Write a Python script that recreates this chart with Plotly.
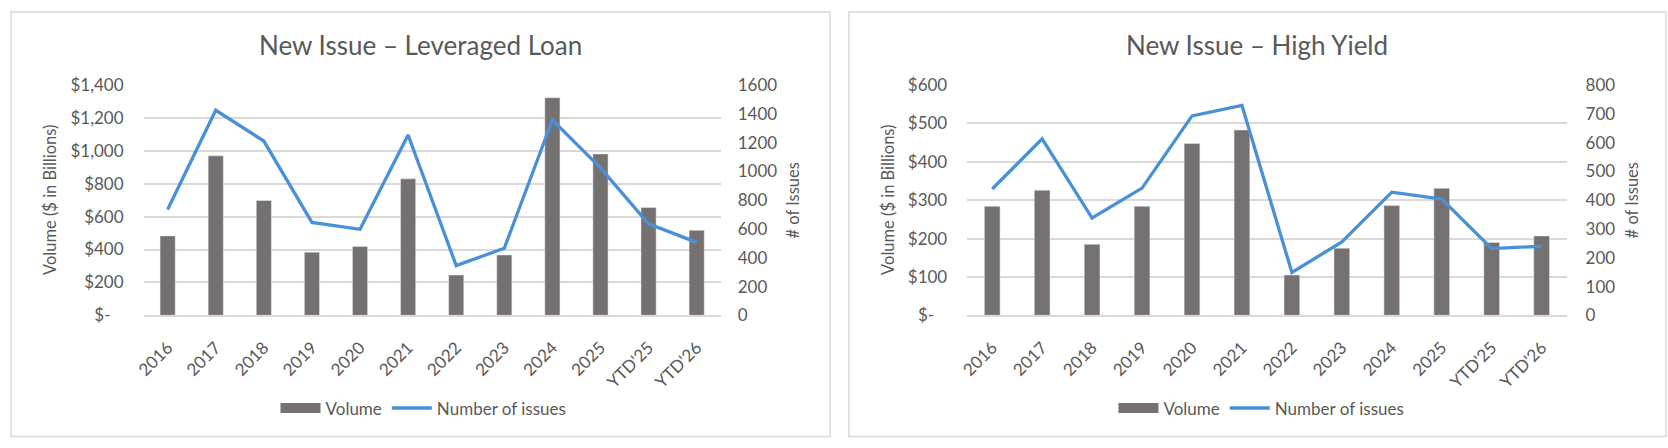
import plotly.graph_objects as go

# chart data
categories = ["2016", "2017", "2018", "2019", "2020", "2021", "2022", "2023",
              "2024", "2025", "YTD'25", "YTD'26"]

loan_volume = [483, 970, 698, 384, 419, 830, 245, 367, 1323, 981, 656, 517]
loan_issues = [736, 1425, 1211, 646, 598, 1253, 346, 466, 1357, 1025, 636, 507]

hy_volume = [284, 326, 185, 284, 448, 483, 105, 175, 286, 331, 190, 207]
hy_issues = [439, 613, 338, 442, 693, 729, 149, 255, 428, 404, 232, 240]

loan_vol_ticks = [0, 200, 400, 600, 800, 1000, 1200, 1400]
loan_vol_labels = ["$-\u00a0\u00a0\u00a0", "$200", "$400", "$600", "$800",
                   "$1,000", "$1,200", "$1,400"]
loan_cnt_ticks = [0, 200, 400, 600, 800, 1000, 1200, 1400, 1600]

hy_vol_ticks = [0, 100, 200, 300, 400, 500, 600]
hy_vol_labels = ["$-\u00a0\u00a0\u00a0", "$100", "$200", "$300", "$400", "$500", "$600"]
hy_cnt_ticks = [0, 100, 200, 300, 400, 500, 600, 700, 800]

W, H = 1668, 448
FONT = "Lato"
TXT = "#595959"
GRID = "#d9d9d9"
BAR = "#767171"
LINE = "#4a90d9"


def px(x):
    return x / W


def py(y):
    return 1 - y / H


fig = go.Figure()


def add_chart(volume, issues, xa, ya, ya2, leg):
    fig.add_trace(go.Bar(x=categories, y=volume, name="Volume", marker_color=BAR,
                         xaxis=xa, yaxis=ya, legendgroup=leg + "vol", showlegend=False))
    # legend-only entry so the swatch is a wide block like Excel's
    fig.add_trace(go.Scatter(x=[None], y=[None], name="Volume", mode="lines",
                             line=dict(color=BAR, width=11), xaxis=xa, yaxis=ya,
                             legendgroup=leg + "vol", legend=leg))
    fig.add_trace(go.Scatter(x=categories, y=issues, name="Number of issues", mode="lines",
                             line=dict(color=LINE, width=3.3), xaxis=xa, yaxis=ya2,
                             legend=leg))


add_chart(loan_volume, loan_issues, "x", "y", "y2", "legend")
add_chart(hy_volume, hy_issues, "x2", "y3", "y4", "legend2")

tick_font = dict(family=FONT, size=17, color=TXT)
y_dom = [py(319.3), py(77.7)]

xcommon = dict(type="category", tickangle=-45, tickfont=tick_font, showgrid=False,
               showline=True, linecolor=GRID, linewidth=1.5, ticks="",
               ticklabelstandoff=14, fixedrange=True)
ycommon = dict(showgrid=True, gridcolor=GRID, gridwidth=1.5, zeroline=False,
               tickfont=tick_font, ticks="", fixedrange=True)
legcommon = dict(orientation="h", xanchor="center", yanchor="middle",
                 font=dict(family=FONT, size=17, color=TXT), itemwidth=40,
                 bgcolor="rgba(0,0,0,0)")

fig.update_layout(
    width=W, height=H,
    margin=dict(l=0, r=0, t=0, b=0),
    paper_bgcolor="white", plot_bgcolor="white",
    font=dict(family=FONT, color=TXT),
    bargap=0.685,
    showlegend=True,
    xaxis=dict(domain=[px(134.4), px(715)], anchor="y", **xcommon),
    yaxis=dict(domain=y_dom, anchor="x", range=[0, 1400], tickvals=loan_vol_ticks,
               ticktext=loan_vol_labels, ticklabelstandoff=19, **ycommon),
    yaxis2=dict(overlaying="y", anchor="x", side="right", range=[0, 1600],
                tickvals=loan_cnt_ticks, showgrid=False, zeroline=False,
                tickfont=tick_font, ticks="", ticklabelstandoff=16, fixedrange=True),
    xaxis2=dict(domain=[px(963), px(1566)], anchor="y3", **xcommon),
    yaxis3=dict(domain=y_dom, anchor="x2", range=[0, 600], tickvals=hy_vol_ticks,
                ticktext=hy_vol_labels, ticklabelstandoff=19, **ycommon),
    yaxis4=dict(overlaying="y3", anchor="x2", side="right", range=[0, 800],
                tickvals=hy_cnt_ticks, showgrid=False, zeroline=False,
                tickfont=tick_font, ticks="", ticklabelstandoff=18, fixedrange=True),
    legend=dict(x=px(416), y=py(417), **legcommon),
    legend2=dict(x=px(1259), y=py(417), **legcommon),
)

# panel borders
for x0, x1 in [(1, 825), (844, 1666)]:
    fig.add_shape(type="rect", xref="paper", yref="paper",
                  x0=px(x0), x1=px(x1), y0=py(446.5), y1=py(1),
                  line=dict(color=GRID, width=1.5), fillcolor="rgba(0,0,0,0)")

# titles and axis titles
annots = [
    dict(text="New Issue \u2013 Leveraged Loan", x=px(412.5), y=py(36), size=26, angle=0),
    dict(text="New Issue \u2013 High Yield", x=px(1255), y=py(36), size=26, angle=0),
    dict(text="Volume ($ in Billions)", x=px(40), y=py(198.5), size=16.5, angle=-90),
    dict(text="# of Issues", x=px(788), y=py(198.5), size=16.5, angle=-90),
    dict(text="Volume ($ in Billions)", x=px(883), y=py(198.5), size=16.5, angle=-90),
    dict(text="# of Issues", x=px(1632), y=py(198.5), size=16.5, angle=-90),
]
for a in annots:
    fig.add_annotation(text=a["text"], x=a["x"], y=a["y"], xref="paper", yref="paper",
                       xanchor="center", yanchor="middle", showarrow=False,
                       textangle=a["angle"], font=dict(family=FONT, size=a["size"], color=TXT))

# drop the default 8px body margin so the figure fills the window exactly
fig.write_html("out.html", config={"displayModeBar": False},
               post_script="document.body.style.margin = '0px';")
